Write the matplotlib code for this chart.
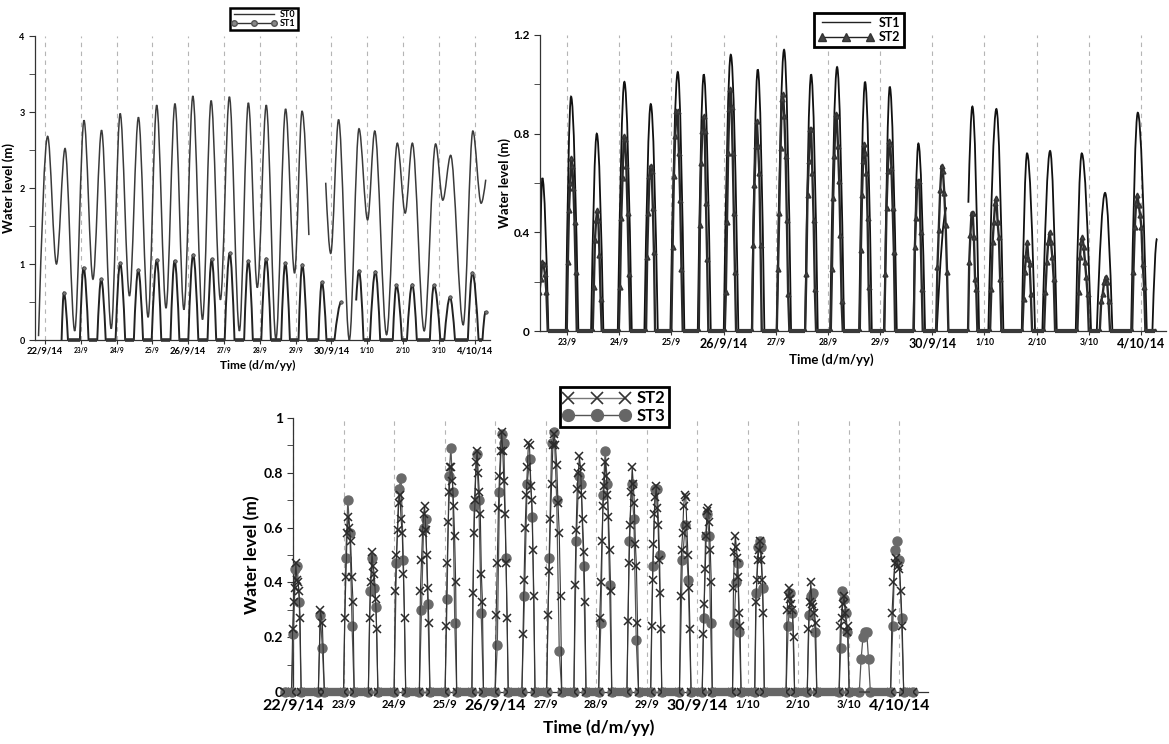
import numpy as np
import matplotlib
matplotlib.use("Agg")
import matplotlib.pyplot as plt
from matplotlib.path import Path
from matplotlib.patches import PathPatch
from matplotlib.lines import Line2D

plt.rcParams['font.family'] = ['Lato', 'DejaVu Sans']
plt.rcParams['font.weight'] = 'bold'

nan = np.nan

# time axis: days after 22/9/14 00:00
day_labels = ['22/9/14', '23/9', '24/9', '25/9', '26/9/14', '27/9', '28/9', '29/9',
              '30/9/14', '1/10', '2/10', '3/10', '4/10/14']

# ST0: high and low waters (nan = gap in record)
st0_t = [-0.18, 0.075, 0.32, 0.56, 0.83, 1.09, 1.34, 1.58, 1.85, 2.10, 2.36, 2.61, 2.88,
         3.12, 3.38, 3.63, 3.88, 4.13, 4.40, 4.64, 4.90, 5.15, 5.43, 5.68, 5.93, 6.18,
         6.45, 6.72, 6.97, 7.18, 7.37, nan, 7.84, 7.98, 8.20, 8.50, 8.77, 9.01, 9.21,
         9.54, 9.84, 10.06, 10.26, 10.59, 10.91, 11.11, 11.33, 11.68, 11.95, 12.18, 12.31]
st0_v = [0.05, 2.68, 1.00, 2.52, 0.12, 2.89, 0.80, 2.76, 0.15, 2.98, 0.58, 2.93, 0.30,
         3.09, 0.42, 3.11, 0.40, 3.21, 0.27, 3.15, 0.53, 3.20, 0.12, 3.12, 0.69, 3.09,
         0.01, 3.04, 0.88, 3.01, 1.38, nan, 2.07, 1.14, 2.90, 0.00, 2.78, 1.58, 2.75,
         0.07, 2.59, 1.67, 2.59, 0.12, 2.58, 1.84, 2.43, 0.20, 2.75, 1.80, 2.11]

# ST1: wet periods (start of rise, level at start, peak time, peak level, end of fall)
st1_rise_t = [0.464, 0.975, 1.460, 1.972, 2.482, 2.980, 3.505, 4.003, 4.540, 5.019, 5.562, 6.041,
              6.596, 7.081, 7.637, 8.085, 8.691, 9.074, 9.714, 10.109, 10.749, 11.152, 11.810, 12.218]
st1_rise_v = [0, 0, 0, 0, 0, 0, 0, 0, 0, 0, 0, 0,
              0, 0, 0, 0, 0.52, 0, 0, 0, 0, 0, 0, 0]
st1_peak_t = [0.527, 1.077, 1.570, 2.099, 2.604, 3.122, 3.620, 4.138, 4.655, 5.159, 5.677, 6.175,
              6.711, 7.185, 7.733, 8.277, 8.768, 9.228, 9.816, 10.257, 10.864, 11.311, 11.938, 12.307]
st1_peak = [0.62, 0.95, 0.80, 1.01, 0.92, 1.05, 1.04, 1.12, 1.06, 1.14, 1.04, 1.07,
            1.01, 0.99, 0.76, 0.50, 0.91, 0.90, 0.72, 0.73, 0.72, 0.56, 0.885, 0.375]
st1_fall_t = [0.642, 1.217, 1.696, 2.240, 2.739, 3.248, 3.754, 4.283, 4.782, 5.293, 5.805, 6.309,
              6.840, 7.319, 7.861, nan, 8.896, 9.362, 9.969, 10.385, 11.042, 11.451, 12.110, nan]

# ST2 (upper right panel): wet periods and the levels logged inside them
st2_start = [0.445, 0.994, 1.492, 1.991, 2.514, 2.999, 3.524, 4.022, 4.546, 5.019, 5.562, 6.054,
             6.610, 7.076, 7.644, 8.072, 8.685, 9.107, 9.726, 10.142, 10.780, 11.209, 11.829]
st2_end = [0.630, 1.186, 1.665, 2.208, 2.687, 3.217, 3.708, 4.239, 4.731, 5.261, 5.772, 6.284,
           6.801, 7.287, 7.817, 8.308, 8.864, 9.324, 9.912, 10.353, 10.999, 11.406, 12.084]
st2_levels = [
    [0.16, 0.21, 0.28, 0.27, 0.23, 0.16],
    [0.28, 0.49, 0.60, 0.70, 0.67, 0.58, 0.44, 0.24],
    [0.18, 0.37, 0.45, 0.49, 0.45, 0.31, 0.13],
    [0.18, 0.46, 0.62, 0.79, 0.78, 0.67, 0.48, 0.23],
    [0.30, 0.48, 0.63, 0.67, 0.65, 0.50, 0.32],
    [0.34, 0.63, 0.79, 0.89, 0.89, 0.72, 0.53, 0.25],
    [0.43, 0.68, 0.81, 0.87, 0.81, 0.52, 0.29],
    [0.16, 0.44, 0.72, 0.90, 0.98, 0.91, 0.72, 0.48, 0.24],
    [0.35, 0.59, 0.75, 0.85, 0.75, 0.64, 0.35],
    [0.25, 0.48, 0.74, 0.94, 0.96, 0.87, 0.71, 0.45, 0.15],
    [0.23, 0.55, 0.69, 0.82, 0.82, 0.64, 0.45, 0.17],
    [0.25, 0.54, 0.71, 0.88, 0.87, 0.75, 0.61, 0.39, 0.12],
    [0.33, 0.55, 0.69, 0.76, 0.72, 0.64, 0.46, 0.18],
    [0.23, 0.50, 0.65, 0.77, 0.76, 0.66, 0.50, 0.32],
    [0.34, 0.46, 0.59, 0.61, 0.61, 0.40, 0.17],
    [0.26, 0.41, 0.57, 0.67, 0.65, 0.56, 0.43, 0.24],
    [0.28, 0.39, 0.48, 0.48, 0.38, 0.21, 0.17],
    [0.17, 0.36, 0.44, 0.52, 0.54, 0.44, 0.38, 0.21],
    [0.13, 0.24, 0.31, 0.36, 0.29, 0.27, 0.15],
    [0.16, 0.28, 0.36, 0.40, 0.36, 0.30, 0.21],
    [0.16, 0.30, 0.36, 0.38, 0.34, 0.28, 0.22, 0.15],
    [0.12, 0.15, 0.20, 0.22, 0.20, 0.12],
    [0.24, 0.42, 0.52, 0.55, 0.51, 0.47, 0.42, 0.27, 0.18],
]

# lower panel: ST2 and ST3 wet periods
low_start = [-0.03, 0.50, 1.00, 1.49, 2.00, 2.50, 3.01, 3.54, 4.00, 4.53, 5.02, 5.56,
             6.05, 6.61, 7.08, 7.65, 8.10, 8.70, 9.14, 9.76, 10.18, 10.81, 11.21, 11.83]
low_end = [0.16, 0.62, 1.21, 1.68, 2.23, 2.71, 3.24, 3.77, 4.26, 4.79, 5.32, 5.80,
           6.31, 6.84, 7.30, 7.88, 8.30, 8.87, 9.33, 9.93, 10.37, 11.01, 11.43, 12.09]
low_st2 = [
    [0.23, 0.33, 0.38, 0.47, 0.41, 0.40, 0.37, 0.27],
    [0.30, 0.25],
    [0.27, 0.42, 0.58, 0.64, 0.60, 0.55, 0.42, 0.33],
    [0.27, 0.40, 0.51, 0.46, 0.43, 0.34, 0.23],
    [0.37, 0.50, 0.59, 0.69, 0.72, 0.63, 0.58, 0.43, 0.27],
    [0.37, 0.48, 0.58, 0.65, 0.68, 0.59, 0.50, 0.38, 0.25],
    [0.24, 0.47, 0.62, 0.73, 0.82, 0.82, 0.77, 0.68, 0.57, 0.40],
    [0.36, 0.58, 0.70, 0.84, 0.88, 0.80, 0.73, 0.65, 0.43, 0.33],
    [0.28, 0.47, 0.67, 0.79, 0.88, 0.95, 0.88, 0.77, 0.65, 0.47, 0.27],
    [0.21, 0.41, 0.60, 0.72, 0.82, 0.91, 0.90, 0.75, 0.70, 0.52, 0.35],
    [0.28, 0.44, 0.63, 0.76, 0.90, 0.94, 0.90, 0.83, 0.69, 0.58, 0.35],
    [0.39, 0.59, 0.74, 0.80, 0.86, 0.82, 0.72, 0.63, 0.51, 0.33],
    [0.27, 0.40, 0.55, 0.68, 0.75, 0.84, 0.79, 0.72, 0.64, 0.52, 0.37],
    [0.26, 0.47, 0.61, 0.73, 0.82, 0.76, 0.69, 0.54, 0.46, 0.25],
    [0.24, 0.41, 0.54, 0.65, 0.71, 0.75, 0.67, 0.61, 0.48, 0.36, 0.23],
    [0.35, 0.52, 0.58, 0.68, 0.72, 0.71, 0.61, 0.50, 0.38, 0.23],
    [0.21, 0.32, 0.45, 0.57, 0.66, 0.67, 0.62, 0.52, 0.40],
    [0.38, 0.51, 0.57, 0.53, 0.49, 0.42, 0.29, 0.24],
    [0.33, 0.41, 0.48, 0.52, 0.55, 0.48, 0.41, 0.29],
    [0.30, 0.35, 0.38, 0.34, 0.32, 0.30, 0.20],
    [0.23, 0.33, 0.40, 0.32, 0.31, 0.29, 0.25],
    [0.24, 0.27, 0.32, 0.35, 0.29, 0.22, 0.24],
    [],
    [0.29, 0.40, 0.47, 0.49, 0.46, 0.45, 0.37, 0.24],
]
low_st3 = [
    [0.21, 0.45, 0.46, 0.33],
    [0.28, 0.16],
    [0.49, 0.70, 0.58, 0.24],
    [0.37, 0.49, 0.38, 0.31],
    [0.47, 0.74, 0.78, 0.48],
    [0.30, 0.60, 0.63, 0.32],
    [0.34, 0.79, 0.89, 0.73, 0.25],
    [0.68, 0.87, 0.70, 0.29],
    [0.17, 0.73, 0.94, 0.91, 0.49],
    [0.35, 0.76, 0.85, 0.64],
    [0.49, 0.91, 0.95, 0.70, 0.15],
    [0.55, 0.79, 0.76, 0.46],
    [0.25, 0.72, 0.88, 0.76, 0.39],
    [0.55, 0.76, 0.63, 0.19],
    [0.46, 0.74, 0.74, 0.50],
    [0.48, 0.61, 0.41],
    [0.27, 0.57, 0.65, 0.57, 0.25],
    [0.25, 0.40, 0.47, 0.22],
    [0.36, 0.53, 0.55, 0.53, 0.38],
    [0.24, 0.36, 0.29],
    [0.28, 0.35, 0.36, 0.22],
    [0.16, 0.37, 0.34, 0.29, 0.22],
    [0.12, 0.20, 0.22, 0.22, 0.12],
    [0.24, 0.52, 0.55, 0.48, 0.27],
]


def tide_path(t, v):
    # smooth curve through high/low waters, flat at each turning point
    verts, codes = [], []
    n = len(t)
    for i in range(n):
        if np.isnan(t[i]):
            continue
        if i == 0 or np.isnan(t[i - 1]):
            verts.append((t[i], v[i]))
            codes.append(Path.MOVETO)
            continue
        dt = t[i] - t[i - 1]
        a_edge = i - 1 == 0 or np.isnan(t[i - 2])
        b_edge = i == n - 1 or np.isnan(t[i + 1])
        y1 = v[i - 1] + 0.5 * (v[i] - v[i - 1]) if a_edge else v[i - 1]
        y2 = v[i] - 0.5 * (v[i] - v[i - 1]) if b_edge else v[i]
        verts += [(t[i - 1] + dt / 3, y1), (t[i] - dt / 3, y2), (t[i], v[i])]
        codes += [Path.CURVE4] * 3
    return Path(verts, codes)


def wet_path(rise_t, rise_v, peak_t, peak_v, fall_t):
    verts, codes = [], []
    open_end = True
    for ts, vs, tp, vp, te in zip(rise_t, rise_v, peak_t, peak_v, fall_t):
        verts.append((ts, vs))
        codes.append(Path.MOVETO if (open_end or vs > 0) else Path.LINETO)
        dr = tp - ts
        verts += [(ts + dr / 3, vs + 0.55 * (vp - vs)), (tp - dr / 3, vp), (tp, vp)]
        codes += [Path.CURVE4] * 3
        if np.isnan(te):
            open_end = True
            continue
        df = te - tp
        verts += [(tp + df / 3, vp), (te - df / 3, 0.55 * vp), (te, 0.0)]
        codes += [Path.CURVE4] * 3
        open_end = False
    return Path(verts, codes)


def logged_series(t0, t1, starts, ends, levels):
    x, y = [t0], [0.0]
    for s, e, vals in zip(starts, ends, levels):
        if len(vals) == 0:
            continue
        x += list(np.linspace(s, e, len(vals) + 2))
        y += [0.0] + list(vals) + [0.0]
    x.append(t1)
    y.append(0.0)
    return np.array(x), np.array(y)


def dry_band(x, y):
    # runs of zero level between wet periods
    bx, by = [], []
    for i in range(len(x) - 1):
        if y[i] == 0 and y[i + 1] == 0 and x[i + 1] > x[i]:
            bx += [x[i], x[i + 1], nan]
            by += [0.0, 0.0, nan]
    return bx, by


def style_axes(ax, xlim, ylim, yticks, ylabels, yminor, ysize, small, big, days):
    ax.set_xlim(*xlim)
    ax.set_ylim(*ylim)
    for d in range(13):
        ax.axvline(d, color='#b5b5b5', ls=(0, (4, 4)), lw=0.8, zorder=0)
    for s in ['top', 'right']:
        ax.spines[s].set_visible(False)
    for s in ['left', 'bottom']:
        ax.spines[s].set_color('#333333')
        ax.spines[s].set_linewidth(0.9)
    ax.set_yticks(yticks)
    ax.set_yticklabels(ylabels, fontsize=ysize, fontweight='bold')
    ax.set_yticks(yminor, minor=True)
    ax.tick_params(axis='y', which='both', length=4, color='#333333')
    ax.set_xticks(days)
    ax.set_xticklabels([day_labels[d] for d in days], fontweight='bold')
    for lab in ax.get_xticklabels():
        lab.set_fontsize(big if lab.get_text().endswith('/14') else small)
    ax.tick_params(axis='x', length=3, color='#333333', pad=2)


fig = plt.figure(figsize=(11.69, 7.44), dpi=100)

# ---------------- upper left: ST0 / ST1 ----------------
ax1 = fig.add_axes([0.0299, 0.543, 0.389, 0.4086])
style_axes(ax1, (-0.28, 12.42), (0, 4), [0, 1, 2, 3, 4], ['0', '1', '2', '3', '4'],
           [0.5, 1.5, 2.5, 3.5], 6.5, 4.8, 6.8, range(13))
ax1.add_patch(PathPatch(tide_path(st0_t, st0_v), fill=False, ec='#3a3a3a', lw=1.1))
ax1.add_patch(PathPatch(wet_path(st1_rise_t, st1_rise_v, st1_peak_t, st1_peak, st1_fall_t),
                        fill=False, ec='#222222', lw=1.4))
bx, by = [], []
for i in range(len(st1_rise_t) - 1):
    if not np.isnan(st1_fall_t[i]) and st1_rise_v[i + 1] == 0:
        bx += [st1_fall_t[i], st1_rise_t[i + 1], nan]
        by += [0, 0, nan]
ax1.plot(bx, by, color='#333333', lw=2.6, solid_capstyle='butt', zorder=3, clip_on=False)
ax1.plot(st1_peak_t, st1_peak, 'o', ms=2.5, mfc='#777777', mec='#333333', mew=0.5, zorder=4)
ax1.set_ylabel('Water level (m)', fontsize=9.5, fontweight='bold', labelpad=3)
ax1.set_xlabel('Time (d/m/yy)', fontsize=8.5, fontweight='bold', labelpad=1)
ax1.xaxis.set_label_coords(0.49, -0.065)
h1 = [Line2D([], [], color='#333333', lw=1),
      Line2D([], [], color='#333333', lw=1, marker='o', ms=4, mfc='#888888', mec='#555555')]
fig.legend(h1, ['ST0', 'ST1'], loc='upper left', bbox_to_anchor=(0.1925, 0.995),
           prop={'size': 6.5, 'weight': 'bold'}, numpoints=3, handlelength=5.0,
           fancybox=False, edgecolor='black', framealpha=1, borderpad=0.2,
           labelspacing=0.05, handletextpad=0.4).get_frame().set_linewidth(1.8)

# ---------------- upper right: ST1 / ST2 ----------------
ax2 = fig.add_axes([0.462, 0.5551, 0.5355, 0.3979])
style_axes(ax2, (0.483, 12.48), (0, 1.2), [0, 0.4, 0.8, 1.2], ['0', '0.4', '0.8', '1.2'],
           [0.2, 0.6, 1.0], 8.5, 6.2, 9, range(1, 13))
ax2.add_patch(PathPatch(wet_path(st1_rise_t, st1_rise_v, st1_peak_t, st1_peak, st1_fall_t),
                        fill=False, ec='#111111', lw=1.3))
x2, y2 = logged_series(0.445, 12.27, st2_start, st2_end, st2_levels)
ax2.plot(x2, y2, color='#2a2a2a', lw=1.7, marker='^', ms=3.5, mfc='#444444', mec='#333333',
         zorder=3)
b2x, b2y = dry_band(x2, y2)
ax2.plot(b2x, b2y, color='#3a3a3a', lw=3, solid_capstyle='butt', zorder=3, clip_on=False)
ax2.set_ylabel('Water level (m)', fontsize=9.5, fontweight='bold', labelpad=2)
ax2.set_xlabel('Time (d/m/yy)', fontsize=9.5, fontweight='bold', labelpad=0)
ax2.xaxis.set_label_coords(0.465, -0.075)
h2 = [Line2D([], [], color='#222222', lw=1),
      Line2D([], [], color='#222222', lw=1, marker='^', ms=5.5, mfc='#444444', mec='#333333')]
fig.legend(h2, ['ST1', 'ST2'], loc='upper left', bbox_to_anchor=(0.691, 0.991),
           prop={'size': 9, 'weight': 'bold'}, numpoints=3, handlelength=4.5,
           fancybox=False, edgecolor='black', framealpha=1, borderpad=0.3,
           labelspacing=0.2, handletextpad=0.4).get_frame().set_linewidth(2)

# ---------------- lower: ST2 / ST3 ----------------
ax3 = fig.add_axes([0.2412, 0.0699, 0.5526, 0.3683])
style_axes(ax3, (-0.22, 12.57), (0, 1), [0, 0.2, 0.4, 0.6, 0.8, 1],
           ['0', '0.2', '0.4', '0.6', '0.8', '1'], [0.1, 0.3, 0.5, 0.7, 0.9],
           11, 8, 11.5, range(13))
ax3.spines['left'].set_position(('data', 0))
x3, y3 = logged_series(-0.16, 12.28, low_start, low_end, low_st3)
x4, y4 = logged_series(-0.16, 12.28, low_start, low_end, low_st2)
b3x, b3y = dry_band(x3, y3)
ax3.plot(b3x, b3y, color='#666666', lw=6, solid_capstyle='butt', zorder=5, clip_on=False)
ax3.plot(x3, y3, color='#555555', lw=0.9, marker='o', ms=6.5, mfc='#6a6a6a', mec='#6a6a6a',
         zorder=3, clip_on=False)
ax3.plot(x4, y4, color='#333333', lw=0.8, marker='x', ms=5.5, mec='#2a2a2a', mew=1.1, zorder=4,
         clip_on=False)
ax3.set_ylabel('Water level (m)', fontsize=12.5, fontweight='bold', labelpad=2)
ax3.set_xlabel('Time (d/m/yy)', fontsize=12.5, fontweight='bold', labelpad=0)
ax3.xaxis.set_label_coords(0.49, -0.1)
h3 = [Line2D([], [], color='#777777', lw=1, marker='x', ms=8, mec='#333333', mew=1.2),
      Line2D([], [], color='#555555', lw=1, marker='o', ms=8.5, mfc='#666666', mec='#666666')]
fig.legend(h3, ['ST2', 'ST3'], loc='upper left', bbox_to_anchor=(0.472, 0.491),
           prop={'size': 12, 'weight': 'bold'}, numpoints=3, handlelength=4,
           fancybox=False, edgecolor='black', framealpha=1, borderpad=0.2,
           labelspacing=0.1, handletextpad=0.4).get_frame().set_linewidth(2)

fig.savefig('out.png', dpi=100)
